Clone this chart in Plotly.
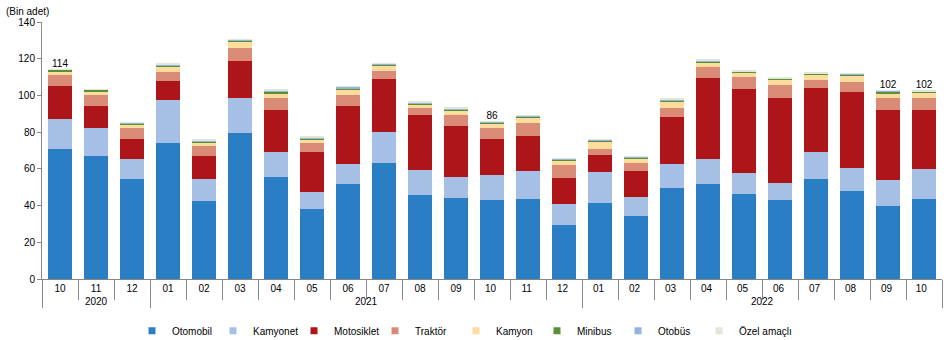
import plotly.graph_objects as go

years = ["2020"] * 3 + ["2021"] * 12 + ["2022"] * 10
months = ["10", "11", "12", "01", "02", "03", "04", "05", "06", "07", "08", "09",
          "10", "11", "12", "01", "02", "03", "04", "05", "06", "07", "08", "09", "10"]

otomobil   = [71.0, 67.2, 54.6, 74.3, 42.6, 79.8, 55.7, 38.3, 51.9, 63.4, 45.9, 44.3, 43.2,
              43.7, 29.5, 41.5, 34.4, 49.7, 51.9, 46.4, 43.2, 54.6, 48.1, 39.9, 43.7]
kamyonet   = [15.9, 14.8, 11.0, 23.0, 12.0, 18.6, 13.7, 9.2, 10.9, 16.9, 13.7, 11.4, 13.6,
              15.3, 11.5, 17.0, 10.4, 13.1, 13.7, 11.5, 9.3, 14.8, 12.6, 14.2, 16.4]
motosiklet = [18.0, 12.0, 10.4, 10.4, 12.6, 20.2, 22.9, 21.9, 31.7, 28.4, 29.5, 27.4, 19.7,
              19.1, 14.2, 9.3, 14.2, 25.7, 43.7, 45.4, 45.9, 34.4, 40.9, 37.7, 31.7]
traktor    = [6.0, 6.0, 6.5, 4.9, 5.5, 7.1, 6.1, 4.9, 6.0, 4.4, 3.8, 6.5, 6.0,
              7.1, 7.1, 3.2, 4.4, 4.9, 6.0, 6.5, 7.1, 4.4, 5.5, 6.6, 6.6]
kamyon     = [2.2, 2.2, 1.7, 3.2, 1.6, 3.3, 2.7, 1.6, 2.8, 3.3, 2.2, 2.2, 2.2,
              2.8, 2.2, 3.9, 2.2, 3.3, 2.7, 2.6, 3.2, 3.3, 3.8, 2.9, 3.2]
minibus    = [0.8, 1.0, 0.7, 0.6, 0.6, 1.1, 1.0, 0.4, 0.7, 0.7, 0.7, 0.7, 0.8,
              0.5, 0.5, 0.7, 0.8, 0.7, 0.6, 0.5, 0.3, 0.3, 0.3, 0.6, 0.6]
otobus     = [0.2, 0.2, 0.4, 0.7, 0.8, 0.2, 0.6, 0.6, 0.6, 0.3, 0.6, 0.6, 0.3,
              0.3, 0.6, 0.3, 0.3, 0.5, 0.6, 0.3, 0.4, 0.4, 0.5, 0.7, 0.2]
ozel       = [0.1, 0.1, 0.2, 0.3, 0.4, 0.1, 0.3, 0.6, 0.3, 0.2, 0.2, 0.2, 0.2,
              0.3, 0.3, 0.2, 0.2, 0.3, 0.3, 0.2, 0.5, 0.5, 0.3, 0.2, 0.1]

series = [
    ("Otomobil", otomobil, "#2a7ec3"),
    ("Kamyonet", kamyonet, "#a6bfe4"),
    ("Motosiklet", motosiklet, "#ae1519"),
    ("Traktör", traktor, "#d98b76"),
    ("Kamyon", kamyon, "#fddc9e"),
    ("Minibus", minibus, "#5a9138"),
    ("Otobüs", otobus, "#94b4dc"),
    ("Özel amaçlı", ozel, "#e2e8d9"),
]

label_idx = [0, 12, 23, 24]
label_txt = ["114", "86", "102", "102"]

font_family = "Liberation Sans, Arial, sans-serif"

# Plotly orders multicategory second-level values by first appearance, so repeated
# month labels are made unique with trailing spaces (invisible when rendered).
seen = {}
month_keys = []
for m in months:
    n = seen.get(m, 0)
    month_keys.append(m + " " * n)
    seen[m] = n + 1

fig = go.Figure()
for name, vals, col in series:
    fig.add_trace(go.Bar(x=[years, month_keys], y=vals, name=name, legendgroup=name,
                         showlegend=False,
                         marker=dict(color=col, line=dict(width=0))))
    # small square legend swatch
    fig.add_trace(go.Scatter(x=[[years[0]], [month_keys[0]]], y=[None], mode="markers",
                             name=name, legendgroup=name, showlegend=True,
                             marker=dict(symbol="square", size=7, color=col),
                             hoverinfo="skip"))
# invisible spacer entry so the last legend label is not clipped
fig.add_trace(go.Scatter(x=[[years[0]], [month_keys[0]]], y=[None], mode="markers",
                         name=" ", showlegend=True,
                         marker=dict(symbol="square", size=7, color="rgba(0,0,0,0)"),
                         hoverinfo="skip"))

totals = [sum(s[1][i] for s in series) for i in range(len(months))]
fig.add_trace(go.Scatter(
    x=[[years[i] for i in label_idx], [month_keys[i] for i in label_idx]],
    y=[totals[i] for i in label_idx],
    text=label_txt, mode="text", textposition="top center",
    textfont=dict(size=10, color="#000000", family=font_family),
    showlegend=False, hoverinfo="skip", cliponaxis=False))

fig.update_layout(
    barmode="stack",
    bargap=0.36,
    width=948, height=340,
    margin=dict(l=42, r=6, t=22, b=61, autoexpand=False),
    plot_bgcolor="white", paper_bgcolor="white",
    font=dict(family=font_family, size=10, color="#000000"),
    legend=dict(orientation="h", x=0.10, xanchor="left", y=-0.145, yanchor="top",
                font=dict(size=10), entrywidth=36, itemwidth=30,
                traceorder="normal"),
    annotations=[dict(text="(Bin adet)", xref="paper", yref="paper", x=-0.042, y=1.0,
                      xanchor="left", yanchor="bottom", yshift=3, showarrow=False,
                      font=dict(size=10))],
)
fig.update_xaxes(type="multicategory", range=[-0.5, len(months) - 0.5],
                 showline=True, linecolor="#868686", linewidth=1,
                 ticks="outside", tickson="boundaries", ticklen=20, tickcolor="#868686",
                 showdividers=True, dividercolor="#868686", dividerwidth=1,
                 showgrid=False, tickfont=dict(size=10), automargin=False)
fig.update_yaxes(range=[0, 140], dtick=20, showline=True, linecolor="#868686", linewidth=1,
                 ticks="outside", ticklen=4, tickcolor="#868686", showgrid=False,
                 zeroline=False, tickfont=dict(size=10), automargin=False)

fig.write_html("out.html")
